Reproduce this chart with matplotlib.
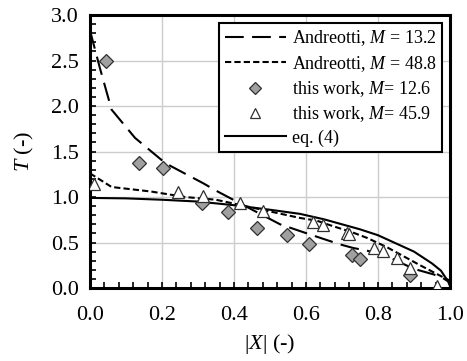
import numpy as np
import matplotlib
matplotlib.use("Agg")
import matplotlib.pyplot as plt

plt.rcParams['font.family'] = ['Liberation Serif', 'DejaVu Serif']
plt.rcParams['mathtext.fontset'] = 'custom'
plt.rcParams['mathtext.rm'] = 'Liberation Serif'
plt.rcParams['mathtext.it'] = 'Liberation Serif:italic'

# Andreotti, M = 13.2 (long dashes)
x_a13 = [0.0, 0.028, 0.06, 0.125, 0.21, 0.315, 0.35, 0.417, 0.528, 0.61, 0.648, 0.694, 0.731, 0.77, 0.824, 0.9, 0.954, 0.98, 1.0]
t_a13 = [2.83, 2.41, 1.96, 1.65, 1.37, 1.15, 1.07, 0.93, 0.70, 0.59, 0.54, 0.48, 0.44, 0.41, 0.35, 0.21, 0.15, 0.11, 0.06]

# Andreotti, M = 48.8 (short dashes)
x_a48 = [0.0, 0.06, 0.17, 0.264, 0.35, 0.49, 0.583, 0.63, 0.667, 0.73, 0.77, 0.824, 0.917, 0.98, 1.0]
t_a48 = [1.26, 1.11, 1.06, 1.00, 0.97, 0.85, 0.77, 0.74, 0.69, 0.61, 0.55, 0.45, 0.25, 0.12, 0.08]

# eq. (4)
x_eq4 = [0.0, 0.1, 0.2, 0.3, 0.4, 0.5, 0.583, 0.65, 0.7, 0.75, 0.8, 0.85, 0.9, 0.95, 0.975, 0.995, 1.0]
t_eq4 = [0.99, 0.985, 0.97, 0.95, 0.91, 0.86, 0.815, 0.755, 0.70, 0.645, 0.58, 0.49, 0.40, 0.27, 0.19, 0.07, 0.02]

# this work, M = 12.6 (diamonds)
x_w12 = [0.044, 0.137, 0.204, 0.312, 0.383, 0.463, 0.548, 0.609, 0.729, 0.75, 0.889]
t_w12 = [2.50, 1.37, 1.32, 0.93, 0.83, 0.66, 0.58, 0.48, 0.36, 0.32, 0.14]

# this work, M = 45.9 (triangles)
x_w45 = [0.01, 0.245, 0.315, 0.417, 0.48, 0.62, 0.646, 0.715, 0.72, 0.79, 0.815, 0.854, 0.889, 0.963]
t_w45 = [1.14, 1.06, 1.01, 0.93, 0.85, 0.73, 0.69, 0.60, 0.59, 0.44, 0.41, 0.33, 0.22, 0.02]

fig = plt.figure(figsize=(4.67, 3.61), dpi=100)
ax = fig.add_axes([0.1927, 0.2022, 0.7709, 0.7562])

ax.plot(x_a13, t_a13, color='black', lw=1.5, dashes=(9, 4), label='Andreotti, $M$ = 13.2')
ax.plot(x_a48, t_a48, color='black', lw=1.5, dashes=(3, 1.5), label='Andreotti, $M$ = 48.8')
ax.plot(x_w12, t_w12, ls='none', marker='D', ms=7.5, mfc='#a0a0a0', mec='#303030', mew=0.9,
        label='this work, $M$= 12.6', zorder=4)
ax.plot(x_w45, t_w45, ls='none', marker='^', ms=8, mfc='white', mec='#303030', mew=0.9,
        label='this work, $M$= 45.9', zorder=4)
ax.plot(x_eq4, t_eq4, color='black', lw=1.5, label='eq. (4)')

ax.set_xlim(0, 1.0)
ax.set_ylim(0, 3.0)
ax.set_xticks(np.arange(0, 1.01, 0.2))
ax.set_yticks(np.arange(0, 3.01, 0.5))
ax.set_xticks(np.arange(0, 1.001, 0.04), minor=True)
ax.set_yticks(np.arange(0, 3.001, 0.1), minor=True)
ax.xaxis.set_major_formatter(matplotlib.ticker.FormatStrFormatter('%.1f'))
ax.yaxis.set_major_formatter(matplotlib.ticker.FormatStrFormatter('%.1f'))
ax.grid(True, which='major', color='#cccccc', lw=1.0)
ax.set_axisbelow(True)
ax.tick_params(which='both', direction='in', length=4, width=1.2)
ax.tick_params(axis='both', which='major', labelsize=16)
ax.tick_params(axis='x', which='major', pad=13)
ax.tick_params(axis='y', which='major', pad=8)
for s in ax.spines.values():
    s.set_linewidth(2.2)

ax.set_xlabel('|$X$| (-)', fontsize=16, labelpad=5)
ax.set_ylabel('$T$ (-)', fontsize=16, labelpad=11)

leg = ax.legend(loc='upper right', fontsize=13, frameon=True, fancybox=False,
                edgecolor='black', framealpha=1, handlelength=3.4, handletextpad=0.3,
                borderpad=0.3, labelspacing=0.3, borderaxespad=0.45, markerscale=0.85)
leg.get_frame().set_linewidth(1.5)

fig.savefig('out.png', dpi=100)
